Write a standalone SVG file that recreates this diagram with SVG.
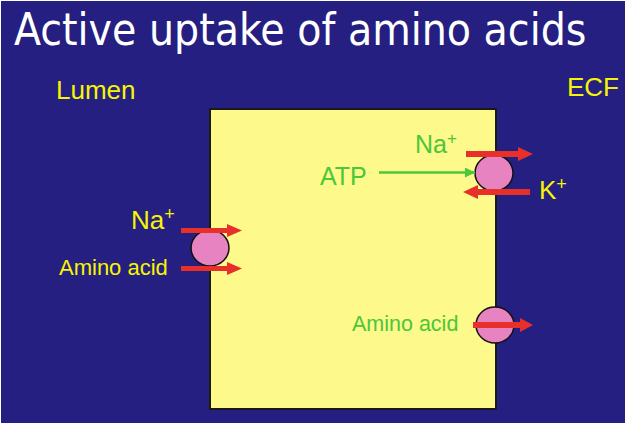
<svg xmlns="http://www.w3.org/2000/svg" width="625" height="423" viewBox="0 0 625 423">
<style>
.bg{fill:#251f82}
.cell{fill:#fdf98a;stroke:#1a1a1a;stroke-width:2}
.pump{fill:#e883c1;stroke:#111;stroke-width:1.5}
.red{fill:#e8302a}
.t{font-family:"Liberation Sans",Arial,sans-serif}
.y{fill:#f7f500}
.g{fill:#4cc63a}
.title{font-family:"DejaVu Sans Condensed","DejaVu Sans",Verdana,sans-serif;font-stretch:condensed;fill:#ffffff;font-size:44px}
</style>
<defs>
<marker id="gh" viewBox="0 0 10 10" refX="10" refY="5" markerWidth="4" markerHeight="4" orient="auto">
<path d="M0,0 L10,5 L0,10 z" fill="#4cc63a"/>
</marker>
</defs>
<rect class="bg" x="0" y="0" width="625" height="423"/>
<rect x="0" y="0" width="625" height="1" fill="#ffffff"/>
<rect x="0" y="0" width="1" height="423" fill="#ffffff"/>
<text class="title" x="14" y="45">Active uptake of amino acids</text>
<g id="lumen-label"><text class="t y" x="56" y="99" font-size="26">Lumen</text></g>
<g id="ecf-label"><text class="t y" x="567" y="96" font-size="26">ECF</text></g>
<g id="cell"><rect class="cell" x="210" y="109" width="286" height="300"/></g>
<g id="symporter">
<ellipse class="pump" cx="210" cy="248" rx="19" ry="18"/>
<text class="t y" x="131" y="229" font-size="26">Na<tspan font-size="18" dy="-9">+</tspan></text>
<text class="t y" x="59" y="275" font-size="22">Amino acid</text>
</g>
<g id="na-k-pump">
<ellipse class="pump" cx="494" cy="173" rx="19" ry="18"/>
<text class="t g" x="415" y="153" font-size="25">Na<tspan font-size="17" dy="-9">+</tspan></text>
<text class="t y" x="539" y="199" font-size="26">K<tspan font-size="18" dy="-9">+</tspan></text>
<text class="t g" x="320" y="185" font-size="25">ATP</text>
</g>
<g id="aa-carrier">
<ellipse class="pump" cx="495" cy="325" rx="19" ry="18"/>
<text class="t g" x="352" y="331" font-size="21.5">Amino acid</text>
</g>
<g id="connectors">
<path class="red" d="M181,228 L227,228 L227,224 L242,230.5 L227,237 L227,233 L181,233 z"/>
<path class="red" d="M181,266 L227,266 L227,262 L242,268.5 L227,275 L227,271 L181,271 z"/>
<path class="red" d="M466,151 L518,151 L518,147 L533,154 L518,161 L518,157 L466,157 z"/>
<path class="red" d="M530,189 L478,189 L478,185 L463,192 L478,199 L478,195 L530,195 z"/>
<path class="red" d="M473,322 L520,322 L520,318 L533,325 L520,332 L520,328 L473,328 z"/>
<line x1="379" y1="172.5" x2="475" y2="172.5" stroke="#4cc63a" stroke-width="2.5" marker-end="url(#gh)"/>
</g>
</svg>
